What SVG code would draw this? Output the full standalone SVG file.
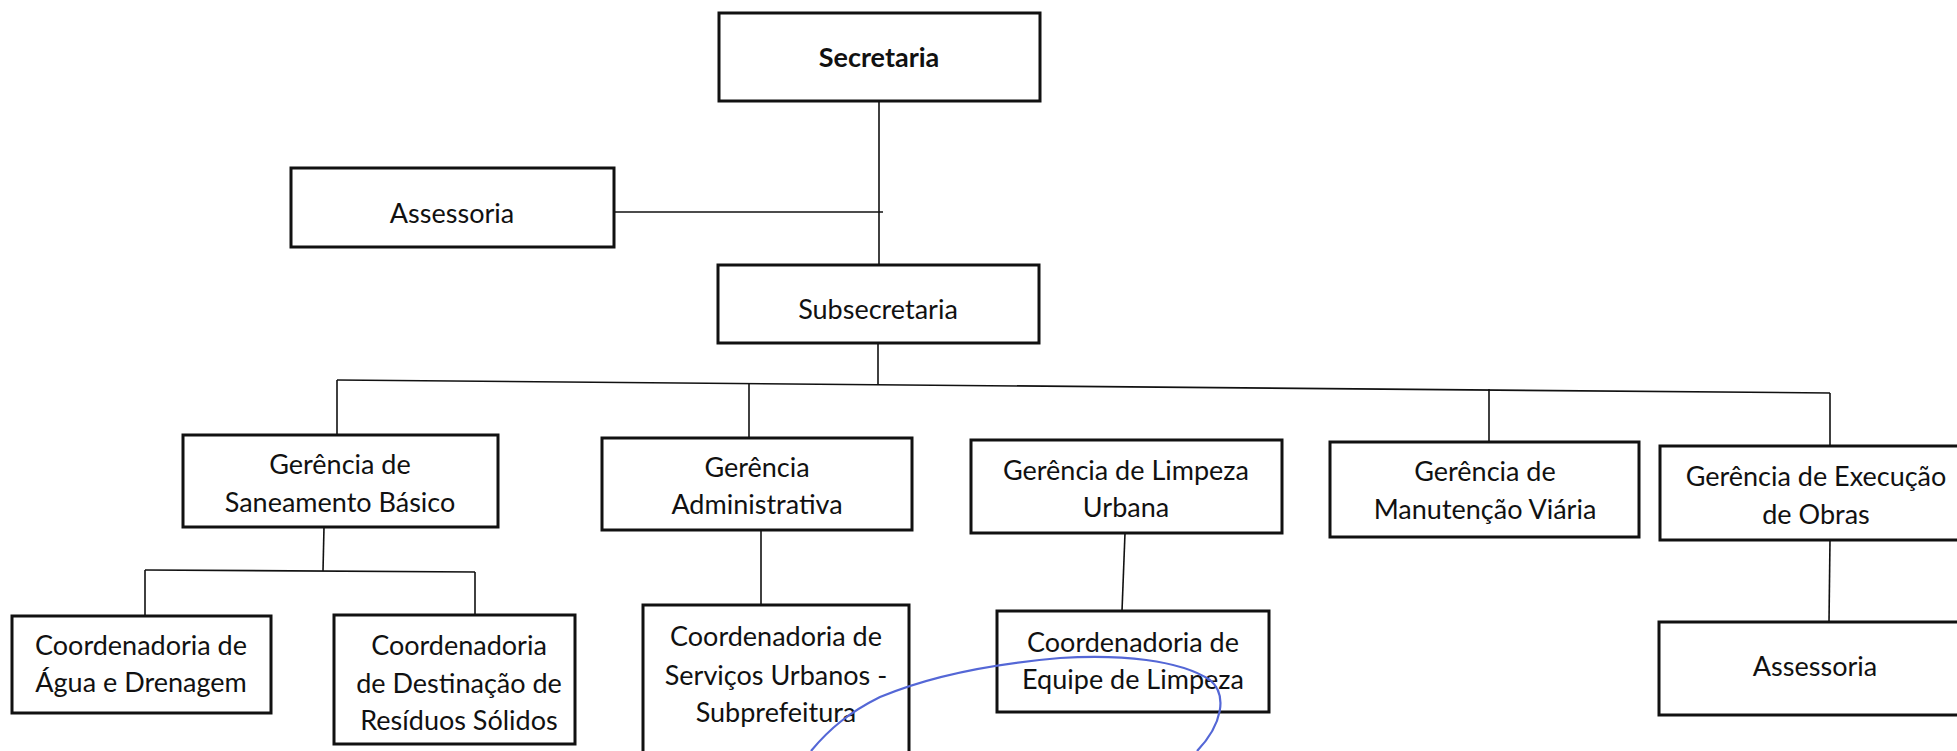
<svg xmlns="http://www.w3.org/2000/svg" width="1957" height="751" viewBox="0 0 1957 751">
<style>
.box{fill:#fff;stroke:#111;stroke-width:3}
.t{font-family:Lato,"Liberation Sans",sans-serif;font-size:27px;fill:#111;text-anchor:middle}
.b{font-weight:bold}
.c{stroke:#111;stroke-width:1.6;fill:none}
.pen{stroke:#5467d6;stroke-width:2.2;fill:none}
</style>
<rect width="1957" height="751" fill="#fff"/>
<g id="connectors">
<line class="c" x1="879" y1="101" x2="879" y2="265"/>
<line class="c" x1="614" y1="212" x2="883" y2="212"/>
<line class="c" x1="878" y1="343" x2="878" y2="385"/>
<line class="c" x1="337" y1="380" x2="1830" y2="393"/>
<line class="c" x1="337" y1="380" x2="337" y2="435"/>
<line class="c" x1="749" y1="384" x2="749" y2="438"/>
<line class="c" x1="1489" y1="389" x2="1489" y2="442"/>
<line class="c" x1="1830" y1="393" x2="1830" y2="446"/>
<line class="c" x1="324" y1="527" x2="323" y2="571"/>
<line class="c" x1="145" y1="570" x2="475" y2="572"/>
<line class="c" x1="145" y1="570" x2="145" y2="616"/>
<line class="c" x1="475" y1="572" x2="475" y2="615"/>
<line class="c" x1="761" y1="530" x2="761" y2="605"/>
<line class="c" x1="1125" y1="533" x2="1122" y2="611"/>
<line class="c" x1="1830" y1="540" x2="1829" y2="622"/>
</g>
<g id="secretaria"><rect class="box" x="719" y="13" width="321" height="88"/><text class="t b" x="879" y="67">Secretaria</text></g>
<g id="assessoria1"><rect class="box" x="291" y="168" width="323" height="79"/><text class="t" x="452" y="223">Assessoria</text></g>
<g id="subsecretaria"><rect class="box" x="718" y="265" width="321" height="78"/><text class="t" x="878" y="319">Subsecretaria</text></g>
<g id="saneamento"><rect class="box" x="183" y="435" width="315" height="92"/><text class="t" x="340" y="474">Gerência de</text><text class="t" x="340" y="512">Saneamento Básico</text></g>
<g id="administrativa"><rect class="box" x="602" y="438" width="310" height="92"/><text class="t" x="757" y="477">Gerência</text><text class="t" x="757" y="514">Administrativa</text></g>
<g id="limpeza"><rect class="box" x="971" y="440" width="311" height="93"/><text class="t" x="1126" y="480">Gerência de Limpeza</text><text class="t" x="1126" y="517">Urbana</text></g>
<g id="manutencao"><rect class="box" x="1330" y="442" width="309" height="95"/><text class="t" x="1485" y="481">Gerência de</text><text class="t" x="1485" y="519">Manutenção Viária</text></g>
<g id="execucao"><rect class="box" x="1660" y="446" width="315" height="94"/><text class="t" x="1816" y="486">Gerência de Execução</text><text class="t" x="1816" y="524">de Obras</text></g>
<g id="agua"><rect class="box" x="12" y="616" width="259" height="97"/><text class="t" x="141" y="655">Coordenadoria de</text><text class="t" x="141" y="692">Água e Drenagem</text></g>
<g id="destinacao"><rect class="box" x="334" y="615" width="241" height="129"/><text class="t" x="459" y="655">Coordenadoria</text><text class="t" x="459" y="693">de Destinação de</text><text class="t" x="459" y="730">Resíduos Sólidos</text></g>
<g id="servicos"><rect class="box" x="643" y="605" width="266" height="170"/><text class="t" x="776" y="646">Coordenadoria de</text><text class="t" x="776" y="685">Serviços Urbanos -</text><text class="t" x="776" y="722">Subprefeitura</text></g>
<g id="equipe"><rect class="box" x="997" y="611" width="272" height="101"/><text class="t" x="1133" y="652">Coordenadoria de</text><text class="t" x="1133" y="689">Equipe de Limpeza</text></g>
<g id="assessoria2"><rect class="box" x="1659" y="622" width="316" height="93"/><text class="t" x="1815" y="676">Assessoria</text></g>
<path class="pen" d="M811,751 C830,728 850,712 880,697 C930,676 990,664 1060,658 C1120,654 1180,660 1210,680 C1228,695 1222,725 1197,751"/>
</svg>
